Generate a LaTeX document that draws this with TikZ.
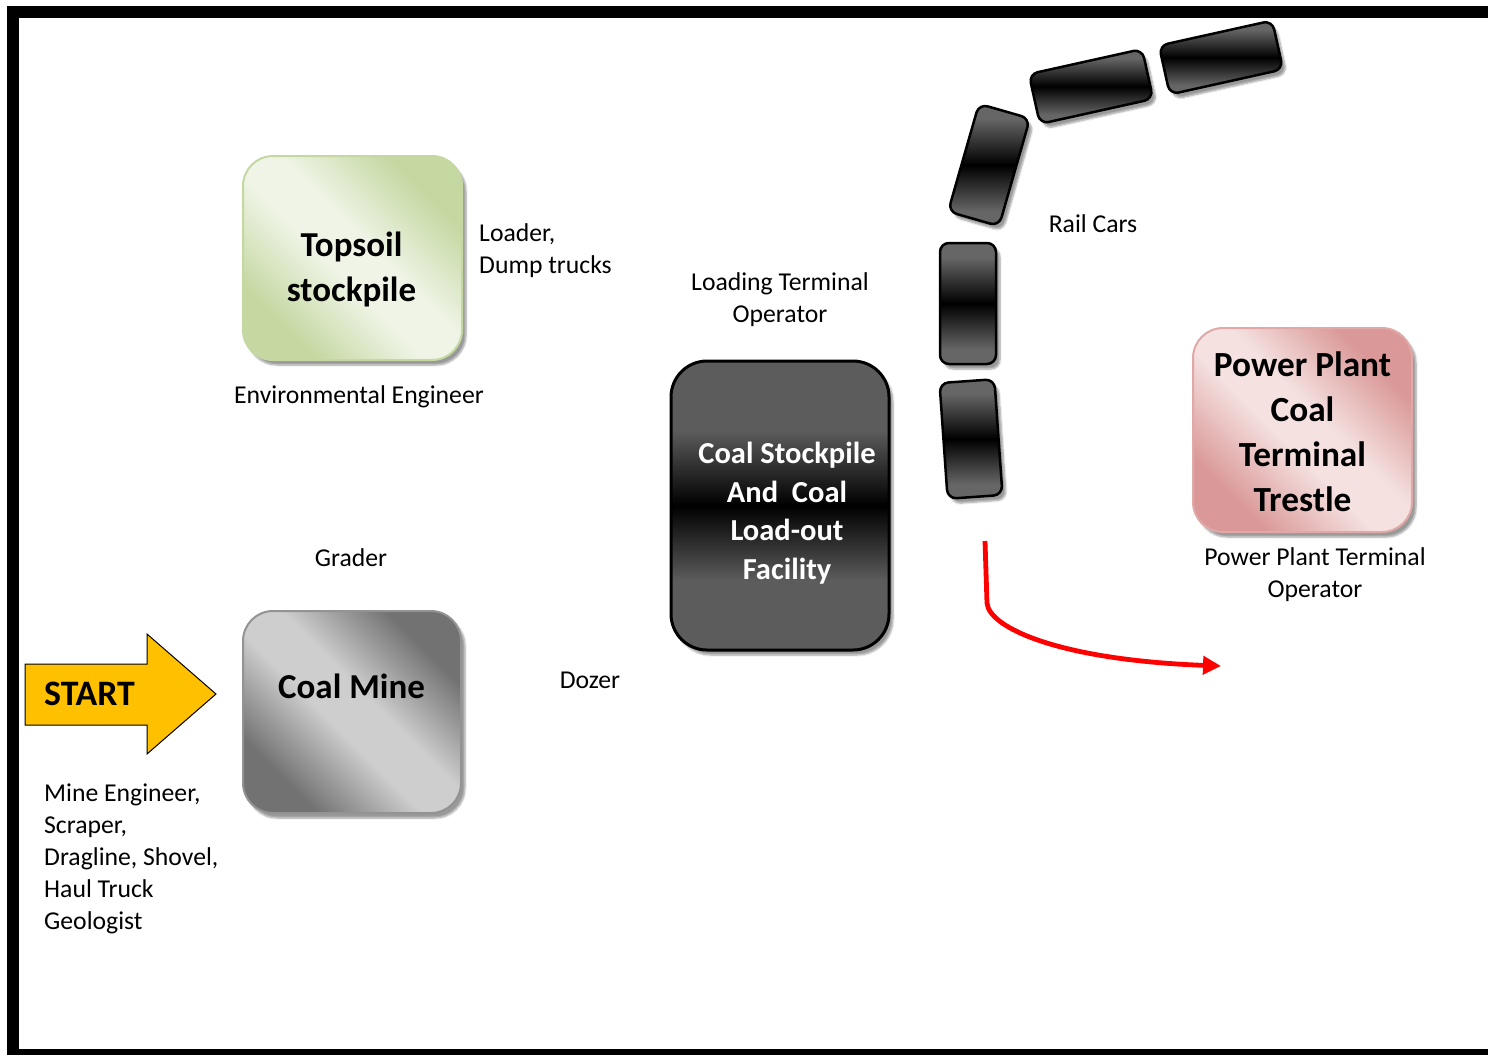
\documentclass[tikz,border=0pt]{standalone}
\usepackage{fontspec}
\setmainfont{Carlito}
\usetikzlibrary{arrows.meta,shadows.blur}
\definecolor{grnD}{HTML}{C5D8A2}
\definecolor{grnL}{HTML}{EFF4E6}
\definecolor{gryD}{HTML}{727272}
\definecolor{gryL}{HTML}{CECECE}
\definecolor{pnkD}{HTML}{DA9998}
\definecolor{pnkL}{HTML}{F4E1E0}
\definecolor{carG}{HTML}{666666}
\definecolor{stkG}{HTML}{5C5C5C}
\definecolor{startY}{HTML}{FFC000}
\pgfdeclareverticalshading{carshade}{100bp}{color(0bp)=(carG); color(31bp)=(carG); color(50bp)=(black); color(69bp)=(carG); color(100bp)=(carG)}
\pgfdeclareverticalshading{stkshade}{100bp}{color(0bp)=(stkG); color(37bp)=(stkG); color(50bp)=(black); color(63bp)=(stkG); color(100bp)=(stkG)}
\pgfdeclareverticalshading{diagshadeG}{100bp}{color(0bp)=(grnD); color(27bp)=(grnD); color(45bp)=(grnL); color(55bp)=(grnL); color(73bp)=(grnD); color(100bp)=(grnD)}
\pgfdeclareverticalshading{diagshadeY}{100bp}{color(0bp)=(gryD); color(27bp)=(gryD); color(45bp)=(gryL); color(55bp)=(gryL); color(73bp)=(gryD); color(100bp)=(gryD)}
\pgfdeclareverticalshading{diagshadeP}{100bp}{color(0bp)=(pnkD); color(27bp)=(pnkD); color(45bp)=(pnkL); color(55bp)=(pnkL); color(73bp)=(pnkD); color(100bp)=(pnkD)}
\begin{document}
\begin{tikzpicture}[x=1pt,y=-1pt,
  shadowed/.style={blur shadow={shadow xshift=4pt, shadow yshift=-5pt, shadow blur steps=6, shadow opacity=40}},
  bigbox/.style={shadowed, rounded corners=30pt, minimum width=219pt, minimum height=204pt, line width=2pt, inner sep=0pt},
  diag/.style={shading=#1, shading angle=-45},
  car/.style={shadowed, draw=black, line width=2.5pt, rounded corners=9pt, shading=carshade, inner sep=0pt},
  boxtext/.style={align=center, inner sep=0pt, font=\fontsize{35}{45}\selectfont\bfseries},
  lbl/.style={align=center, inner sep=0pt, font=\fontsize{25.7}{32}\selectfont},
]
\useasboundingbox (0,0) rectangle (1488,1055);
% frame
\fill[black] (7,6) rectangle (1488,18);
\fill[black] (7,6) rectangle (19,1055);
\fill[black] (7,1049) rectangle (1488,1055);

% boxes
\node[bigbox, draw=grnD, diag=diagshadeG] (topsoil) at (352.5,258) {};
\node[bigbox, draw=gray!85, diag=diagshadeY, minimum width=218pt, minimum height=202pt] (mine) at (352,712) {};
\node[bigbox, draw=black, line width=3pt, rounded corners=36pt, minimum width=218pt, minimum height=289pt,
      shading=stkshade] (stock) at (780,505.5) {};
\node[bigbox, draw=pnkD!85, diag=diagshadeP] (power) at (1302.5,430) {};

\node[boxtext] (topsoiltxt) at (351.5,269) {Topsoil\\stockpile};
\node[boxtext] (minetxt) at (351.5,686) {Coal Mine};
\node[boxtext, text=white, font=\fontsize{30.5}{38.5}\selectfont\bfseries] (stocktxt) at (787,513) {Coal Stockpile\\And~ Coal\\Load-out\\Facility};
\node[boxtext, font=\fontsize{35.3}{45}\selectfont\bfseries] (powertxt) at (1302.5,432) {Power Plant\\Coal\\Terminal\\Trestle};

% START arrow
\draw[fill=startY, draw=black, line width=1pt] (25,664) -- (147,664) -- (147,634) -- (216,694) -- (147,754) -- (147,725) -- (25,725) -- cycle;
\node[boxtext, anchor=west, font=\fontsize{35.8}{45}\selectfont\bfseries] (start) at (44,694) {START};

% rail cars
\node[car, minimum width=56pt, minimum height=121pt] (car1) at (968,303.5) {};
\node[car, minimum width=55pt, minimum height=116pt, rotate=4] (car2) at (971,439) {};
\node[car, minimum width=53pt, minimum height=112pt, rotate=-16] (car3) at (989,165) {};
\node[car, minimum width=116pt, minimum height=51pt, rotate=12.5] (car4) at (1091,86.5) {};
\node[car, minimum width=116pt, minimum height=50pt, rotate=12.5] (car5) at (1221,57.5) {};

% red arrow
\coordinate (r0) at (985,541);
\coordinate (r1) at (1221,666);
\draw[red, line width=4.8pt, -{Triangle[length=18pt,width=18pt]}] (r0) -- (987,603) .. controls (989,628) and (1060,660) .. (r1);

% labels
\node[lbl, anchor=west, align=left] (loader) at (479,251) {Loader,\\Dump trucks};
\node[lbl] (env) at (359,397) {Environmental Engineer};
\node[lbl] (lto) at (780,300) {Loading Terminal\\Operator};
\node[lbl] (rail) at (1093,224) {Rail Cars};
\node[lbl] (ppto) at (1315,575) {Power Plant Terminal\\Operator};
\node[lbl] (grader) at (351,558) {Grader};
\node[lbl] (dozer) at (590,680) {Dozer};
\node[lbl, anchor=west, align=left] (crew) at (44,859) {Mine Engineer,\\Scraper,\\Dragline, Shovel,\\Haul Truck\\Geologist};
\end{tikzpicture}
\end{document}
